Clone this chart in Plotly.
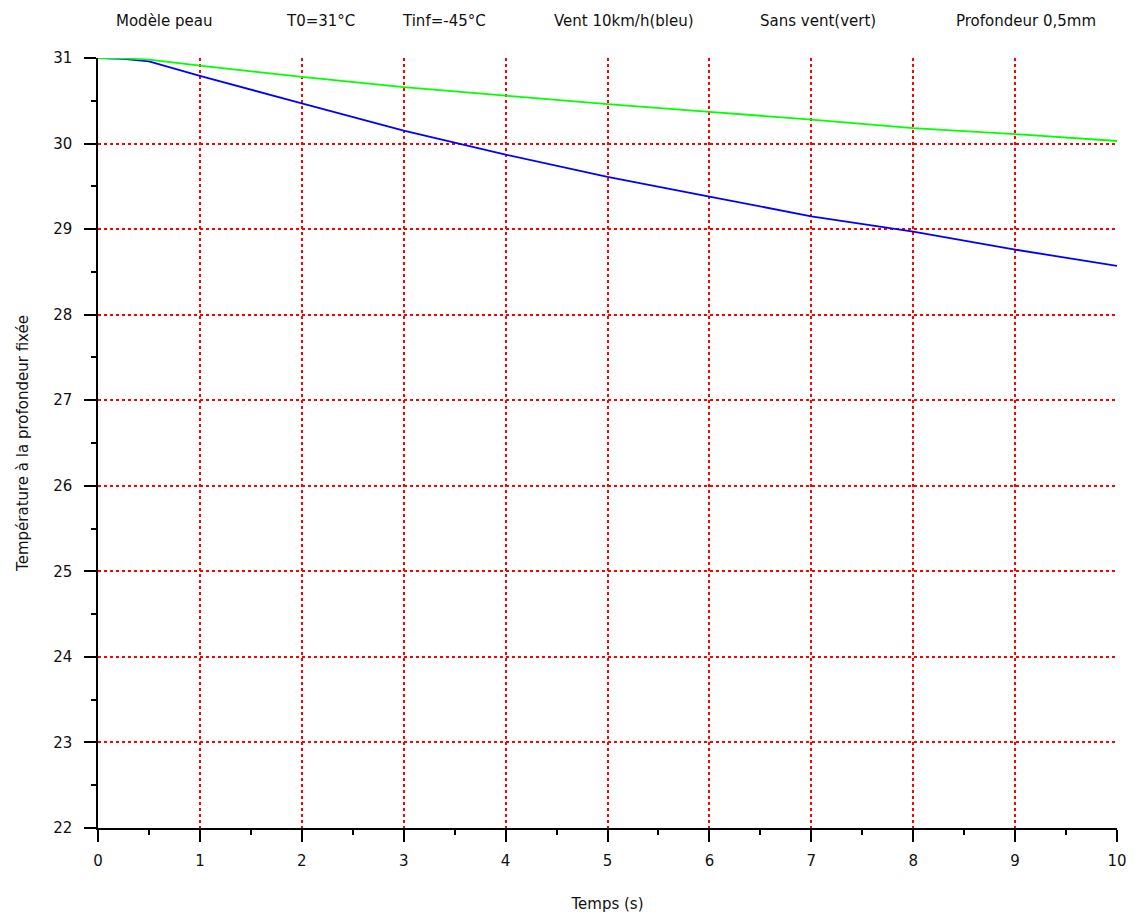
import plotly.graph_objects as go

# Data
t = [0, 0.25, 0.5, 1, 2, 3, 4, 5, 6, 7, 8, 9, 10]
temp_vent = [31.0, 30.99, 30.96, 30.79, 30.47, 30.15, 29.87, 29.61, 29.38, 29.15, 28.97, 28.76, 28.57]
temp_sans_vent = [31.0, 30.995, 30.98, 30.91, 30.78, 30.66, 30.56, 30.46, 30.37, 30.28, 30.18, 30.11, 30.03]

title_parts = ["Modèle peau", "T0=31°C", "Tinf=-45°C", "Vent 10km/h(bleu)", "Sans vent(vert)", "Profondeur 0,5mm"]
title_centers_px = [164, 320, 444, 624, 818, 1026]

x_ticks = list(range(0, 11))
y_ticks = list(range(22, 32))

W, H = 1136, 921
ML, MR, MT, MB = 98, 19, 58, 93
PW, PH = W - ML - MR, H - MT - MB

FONT = "DejaVu Sans, Liberation Sans, sans-serif"
TXT = "#111111"
FS = 15

fig = go.Figure()
fig.add_trace(go.Scatter(x=t, y=temp_vent, mode="lines",
                         line=dict(color="#0000ff", width=1.8), showlegend=False))
fig.add_trace(go.Scatter(x=t, y=temp_sans_vent, mode="lines",
                         line=dict(color="#00ff00", width=1.8), showlegend=False))

annotations = []
for txt, cx in zip(title_parts, title_centers_px):
    annotations.append(dict(
        text=txt, xref="paper", yref="paper",
        x=(cx - ML) / PW, y=(H - MB - 21) / PH,
        xanchor="center", yanchor="middle", showarrow=False,
        font=dict(family=FONT, size=FS, color=TXT)))

grid = dict(showgrid=True, gridcolor="rgb(255,0,0)", gridwidth=1.5, griddash="dot")

fig.update_layout(
    width=W, height=H,
    margin=dict(l=ML, r=MR, t=MT, b=MB, pad=0, autoexpand=False),
    paper_bgcolor="white", plot_bgcolor="white",
    font=dict(family=FONT, size=FS, color=TXT),
    annotations=annotations,
    xaxis=dict(
        range=[0, 10], tickvals=x_ticks, ticktext=[str(v) for v in x_ticks],
        showline=True, linecolor="black", linewidth=1.5, mirror=False,
        ticks="outside", ticklen=12, tickwidth=1.5, tickcolor="black",
        zeroline=False, ticklabelstandoff=6, automargin=False,
        minor=dict(ticks="outside", ticklen=5, tickwidth=1.5, tickcolor="black",
                   dtick=0.5, showgrid=False),
        tickfont=dict(family=FONT, size=FS, color=TXT),
        title=dict(text="Temps (s)", font=dict(family=FONT, size=FS, color=TXT), standoff=30),
        **grid,
    ),
    yaxis=dict(
        range=[22, 31], tickvals=y_ticks, ticktext=[str(v) for v in y_ticks],
        showline=True, linecolor="black", linewidth=1.5, mirror=False,
        ticks="outside", ticklen=12, tickwidth=1.5, tickcolor="black",
        zeroline=False, ticklabelstandoff=9, automargin=False,
        minor=dict(ticks="outside", ticklen=5, tickwidth=1.5, tickcolor="black",
                   dtick=0.5, showgrid=False),
        tickfont=dict(family=FONT, size=FS, color=TXT),
        title=dict(text="Température à la profondeur fixée",
                   font=dict(family=FONT, size=FS, color=TXT), standoff=21),
        **grid,
    ),
)

fig.write_html("out.html")
